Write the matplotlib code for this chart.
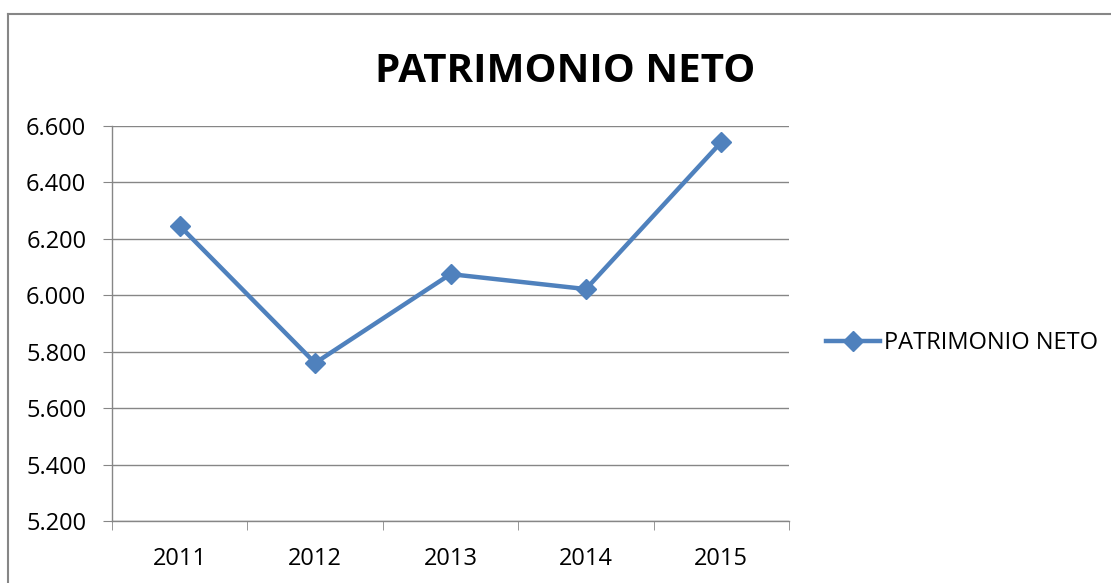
import matplotlib.pyplot as plt
from matplotlib.ticker import FuncFormatter, FixedLocator
from matplotlib.lines import Line2D

# Patrimonio neto by year
years = ["2011", "2012", "2013", "2014", "2015"]
patrimonio = [6246, 5760, 6075, 6022, 6543]

plt.rcParams['font.family'] = ['Open Sans', 'DejaVu Sans']

blue = '#4F81BD'
grey = '#868686'

fig = plt.figure(figsize=(11.11, 5.83), dpi=100)
ax = fig.add_axes([112/1111, 62/583, 677/1111, 395/583])

x = list(range(len(years)))
ax.plot(x, patrimonio, color=blue, lw=3.2, marker='D', markersize=10,
		label="PATRIMONIO NETO", solid_joinstyle='miter')

ax.set_xlim(-0.5, len(years) - 0.5)
ax.set_ylim(5200, 6600)
ax.set_yticks(range(5200, 6601, 200))
# thousands with a dot, like the spanish excel chart
ax.yaxis.set_major_formatter(FuncFormatter(lambda v, p: "%d.%03d" % (int(v)//1000, int(v) % 1000)))
ax.grid(axis='y', color=grey, lw=1)
ax.set_axisbelow(True)

ax.set_xticks(x)
ax.set_xticklabels(years)
ax.xaxis.set_minor_locator(FixedLocator([i - 0.5 for i in range(len(years) + 1)]))
ax.tick_params(axis='x', which='major', length=0, pad=19, labelsize=17)
ax.tick_params(axis='x', which='minor', length=6.5, color=grey, direction='out')
ax.tick_params(axis='y', length=6.5, color=grey, direction='out', pad=12, labelsize=17)

for s in ['top', 'right']:
	ax.spines[s].set_visible(False)
for s in ['left', 'bottom']:
	ax.spines[s].set_color(grey)
	ax.spines[s].set_linewidth(1)

fig.text(565/1111, 1 - 71/583, "PATRIMONIO NETO", ha='center', va='center',
		 fontsize=29, fontweight='bold')

ax.legend(loc='center left', bbox_to_anchor=(826/1111, 1 - 343/583),
		  bbox_transform=fig.transFigure, frameon=False, fontsize=17,
		  handlelength=2.3, handletextpad=0.17, borderpad=0, borderaxespad=0)

# outer chart frame (cut off at the right and bottom)
fig.add_artist(Line2D([8/1111, 8/1111], [0, 1 - 14/583], color=grey, lw=1.5))
fig.add_artist(Line2D([8/1111, 1], [1 - 14/583, 1 - 14/583], color=grey, lw=1.5))

fig.savefig("out.png", dpi=100)
